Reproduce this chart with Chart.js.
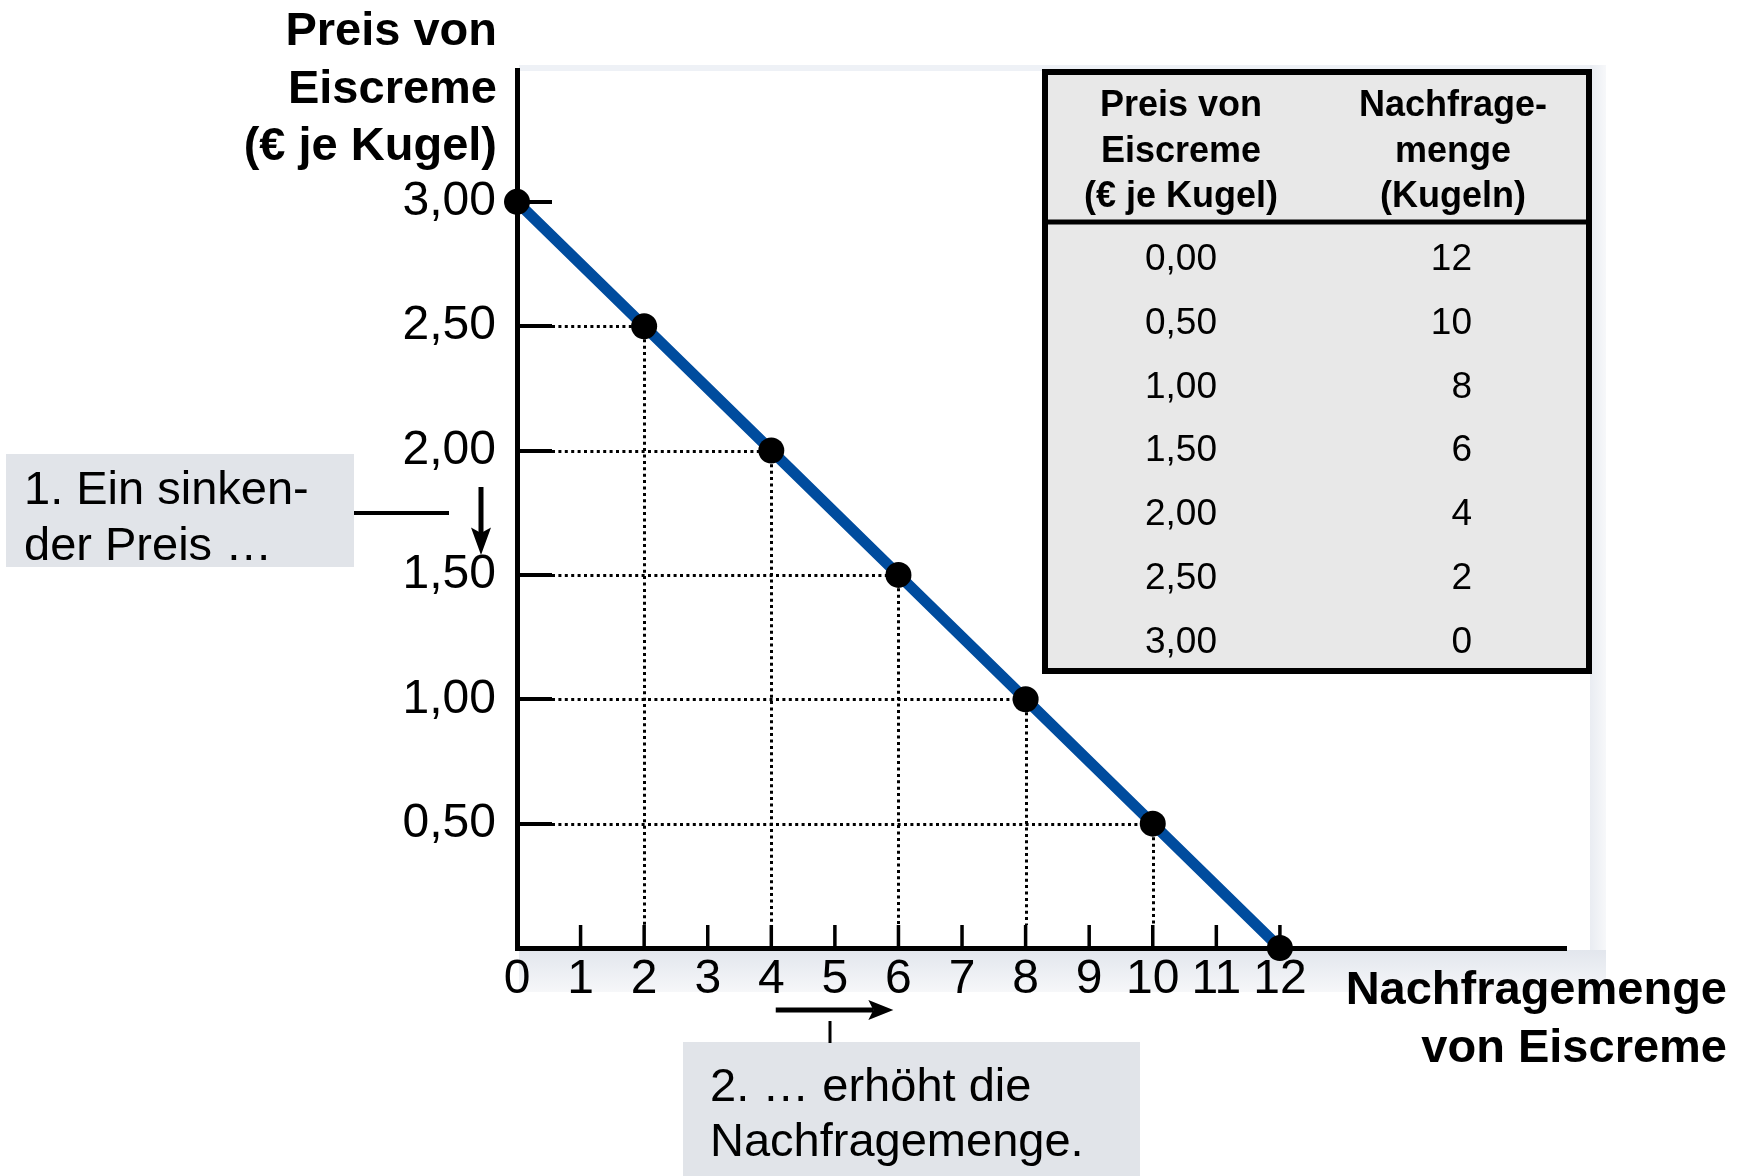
<!DOCTYPE html>
<html>
<head>
<meta charset="utf-8">
<script src="https://cdn.jsdelivr.net/npm/chart.js@4.4.1/dist/chart.umd.min.js"></script>
<style>
html, body { margin: 0; padding: 0; background: #ffffff; overflow: hidden; }
canvas { display: block; }
</style>
</head>
<body>
<canvas id="c" width="1739" height="1176"></canvas>
<script>
// ---- data ----
const quantities = [0, 2, 4, 6, 8, 10, 12];
const prices = [3.00, 2.50, 2.00, 1.50, 1.00, 0.50, 0.00];
const xTickValues = [0, 1, 2, 3, 4, 5, 6, 7, 8, 9, 10, 11, 12];
const yTickValues = [0.5, 1.0, 1.5, 2.0, 2.5, 3.0];
const yTitleLines = ['Preis von', 'Eiscreme', '(€ je Kugel)'];
const xTitleLines = ['Nachfragemenge', 'von Eiscreme'];
const tableHeaderPrice = ['Preis von', 'Eiscreme', '(€ je Kugel)'];
const tableHeaderQty = ['Nachfrage-', 'menge', '(Kugeln)'];
const tablePrices = [0.00, 0.50, 1.00, 1.50, 2.00, 2.50, 3.00];
const tableQuantities = [12, 10, 8, 6, 4, 2, 0];
const note1Lines = ['1. Ein sinken-', 'der Preis …'];
const note2Lines = ['2. … erhöht die', 'Nachfragemenge.'];

const FONT = '"Liberation Sans", Arial, Helvetica, sans-serif';
const fmt = v => Number(v).toFixed(2).replace('.', ',');

function arrow(ctx, x1, y1, x2, y2, w, headLen, headW) {
  const ang = Math.atan2(y2 - y1, x2 - x1);
  const bx = x2 - headLen * Math.cos(ang), by = y2 - headLen * Math.sin(ang);
  ctx.save();
  ctx.strokeStyle = '#000'; ctx.fillStyle = '#000'; ctx.lineWidth = w; ctx.setLineDash([]);
  ctx.beginPath(); ctx.moveTo(x1, y1); ctx.lineTo(bx, by); ctx.stroke();
  const px = -Math.sin(ang) * headW / 2, py = Math.cos(ang) * headW / 2;
  const nx = bx - headLen * 0.25 * Math.cos(ang), ny = by - headLen * 0.25 * Math.sin(ang);
  ctx.beginPath();
  ctx.moveTo(x2, y2);
  ctx.lineTo(nx + px, ny + py);
  ctx.lineTo(bx, by);
  ctx.lineTo(nx - px, ny - py);
  ctx.closePath(); ctx.fill();
  ctx.restore();
}

const decor = {
  id: 'decor',
  beforeDraw(chart) {
    const ctx = chart.ctx, a = chart.chartArea;
    ctx.save();
    // faint panel frame behind the diagram
    ctx.fillStyle = '#eef1f6';
    ctx.fillRect(a.left + 2, a.top - 5, 1605 - a.left - 2, 6);
    const gr = ctx.createLinearGradient(1590, 0, 1606, 0);
    gr.addColorStop(0, '#e9ecf2'); gr.addColorStop(1, '#f7f8fa');
    ctx.fillStyle = gr;
    ctx.fillRect(1590, a.top - 5, 16, a.bottom - a.top + 8);
    const gb = ctx.createLinearGradient(0, a.bottom + 2, 0, a.bottom + 44);
    gb.addColorStop(0, '#e2e6ed'); gb.addColorStop(1, '#f6f7f9');
    ctx.fillStyle = gb;
    ctx.fillRect(a.left + 2, a.bottom + 2, 1606 - a.left - 2, 42);
    ctx.restore();
  },
  beforeDatasetsDraw(chart) {
    const ctx = chart.ctx, xs = chart.scales.x, ys = chart.scales.y, a = chart.chartArea;
    const yTickEnd = a.left + 35, xTickTop = a.bottom - 23;
    ctx.save();
    // dotted guide lines
    ctx.strokeStyle = '#000'; ctx.lineWidth = 3; ctx.setLineDash([3, 3.4]);
    for (let i = 0; i < quantities.length; i++) {
      const q = quantities[i], p = prices[i];
      if (q <= 0 || p <= 0) continue;
      const px = Math.round(xs.getPixelForValue(q)) + 0.5, py = Math.round(ys.getPixelForValue(p)) + 0.5;
      ctx.beginPath(); ctx.moveTo(yTickEnd, py); ctx.lineTo(px, py); ctx.stroke();
      ctx.beginPath(); ctx.moveTo(px, py); ctx.lineTo(px, xTickTop); ctx.stroke();
    }
    ctx.setLineDash([]);
    // y tick marks (inside)
    ctx.strokeStyle = '#000'; ctx.lineWidth = 4;
    yTickValues.forEach(v => {
      const py = Math.round(ys.getPixelForValue(v));
      ctx.beginPath(); ctx.moveTo(a.left, py); ctx.lineTo(yTickEnd, py); ctx.stroke();
    });
    // x tick marks (inside)
    ctx.lineWidth = 3.5;
    xTickValues.forEach(v => {
      if (v === 0) return;
      const px = xs.getPixelForValue(v);
      ctx.beginPath(); ctx.moveTo(px, a.bottom); ctx.lineTo(px, xTickTop); ctx.stroke();
    });
    ctx.restore();
  },
  afterDraw(chart) {
    const ctx = chart.ctx, xs = chart.scales.x, ys = chart.scales.y, a = chart.chartArea;
    ctx.save();
    ctx.fillStyle = '#000';
    ctx.textBaseline = 'alphabetic';
    // y-axis title
    ctx.font = 'bold 47px ' + FONT; ctx.textAlign = 'right';
    yTitleLines.forEach((t, i) => ctx.fillText(t, 497, 45 + i * 57.5));
    // x-axis title
    xTitleLines.forEach((t, i) => ctx.fillText(t, 1727, 1004 + i * 58));

    // table
    const tx = 1045, ty = 72, tw = 544, th = 599;
    ctx.fillStyle = '#e8e8e8'; ctx.fillRect(tx, ty, tw, th);
    ctx.strokeStyle = '#000'; ctx.lineWidth = 6; ctx.strokeRect(tx, ty, tw, th);
    ctx.lineWidth = 5; ctx.beginPath(); ctx.moveTo(tx, 222); ctx.lineTo(tx + tw, 222); ctx.stroke();
    ctx.fillStyle = '#000';
    ctx.font = 'bold 36px ' + FONT; ctx.textAlign = 'center';
    tableHeaderPrice.forEach((t, i) => ctx.fillText(t, 1181, 116 + i * 45.5));
    tableHeaderQty.forEach((t, i) => ctx.fillText(t, 1453, 116 + i * 45.5));
    ctx.font = '37px ' + FONT;
    tablePrices.forEach((p, i) => {
      ctx.textAlign = 'center'; ctx.fillText(fmt(p), 1181, 270 + i * 63.8);
      ctx.textAlign = 'right'; ctx.fillText(String(tableQuantities[i]), 1472, 270 + i * 63.8);
    });

    // annotation box 1
    ctx.fillStyle = '#e1e4e9'; ctx.fillRect(6, 454, 348, 113);
    ctx.fillStyle = '#000'; ctx.font = '47px ' + FONT; ctx.textAlign = 'left';
    note1Lines.forEach((t, i) => ctx.fillText(t, 24, 504 + i * 56));
    ctx.strokeStyle = '#000'; ctx.lineWidth = 4;
    ctx.beginPath(); ctx.moveTo(354, 513); ctx.lineTo(449, 513); ctx.stroke();
    arrow(ctx, 481, 487, 481, 555, 5, 22, 20);

    // annotation box 2
    ctx.fillStyle = '#e1e4e9'; ctx.fillRect(683, 1042, 457, 134);
    ctx.fillStyle = '#000'; ctx.textAlign = 'left';
    note2Lines.forEach((t, i) => ctx.fillText(t, 710, 1101 + i * 55));
    ctx.strokeStyle = '#000'; ctx.lineWidth = 3;
    ctx.beginPath(); ctx.moveTo(830, 1021); ctx.lineTo(830, 1043); ctx.stroke();
    arrow(ctx, xs.getPixelForValue(4.07), 1010, xs.getPixelForValue(5.92), 1010, 5, 20, 20);
    ctx.restore();
  }
};

new Chart(document.getElementById('c'), {
  type: 'scatter',
  data: {
    datasets: [{
      data: quantities.map((q, i) => ({ x: q, y: prices[i] })),
      showLine: true,
      borderColor: '#004c9e',
      borderWidth: 11,
      pointRadius: 13,
      pointHoverRadius: 13,
      pointBackgroundColor: '#000',
      pointBorderWidth: 0,
      tension: 0,
      clip: false
    }]
  },
  options: {
    responsive: false,
    devicePixelRatio: 1,
    animation: false,
    events: [],
    layout: { padding: { left: 0, top: 70, right: 173, bottom: 0 } },
    plugins: { legend: { display: false }, tooltip: { enabled: false }, title: { display: false } },
    scales: {
      x: {
        type: 'linear', min: 0, max: 16.5,
        afterFit: s => { s.height = 228; },
        afterBuildTicks: s => { s.ticks = xTickValues.map(v => ({ value: v })); },
        grid: { display: false, drawTicks: false },
        border: { display: true, color: '#000', width: 5 },
        ticks: { color: '#000', font: { family: FONT, size: 48 }, padding: 3, maxRotation: 0, autoSkip: false,
                 callback: v => String(v) }
      },
      y: {
        type: 'linear', min: 0, max: 3.53,
        afterFit: s => { s.width = 517; },
        afterBuildTicks: s => { s.ticks = yTickValues.map(v => ({ value: v })); },
        grid: { display: false, drawTicks: false },
        border: { display: true, color: '#000', width: 5 },
        ticks: { color: '#000', font: { family: FONT, size: 48 }, padding: 21, autoSkip: false,
                 callback: v => fmt(v) }
      }
    }
  },
  plugins: [decor]
});
</script>
</body>
</html>
